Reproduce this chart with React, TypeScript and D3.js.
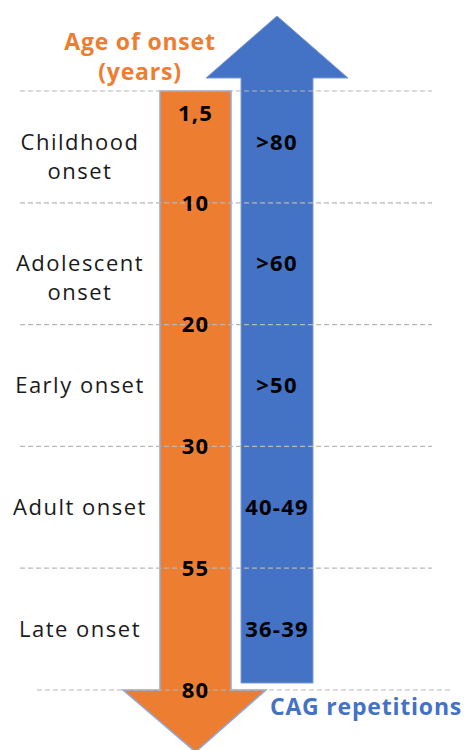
import React from "react";
import * as d3 from "d3";

// onset stages, top to bottom
const stages = ["Childhood onset", "Adolescent onset", "Early onset", "Adult onset", "Late onset"];
const stageLines = [["Childhood", "onset"], ["Adolescent", "onset"], ["Early onset"], ["Adult onset"], ["Late onset"]];
// age (years) at the stage boundaries
const ageBreaks = ["1,5", "10", "20", "30", "55", "80"];
// CAG repeats per stage
const cagRepeats = [">80", ">60", ">50", "40-49", "36-39"];

const ORANGE = "#ED7D31";
const BLUE = "#4472C4";
const FONT = "'Open Sans', 'DejaVu Sans', sans-serif";

export default function App() {
  const width = 465;
  const height = 750;

  const y = d3.scaleBand().domain(stages).range([81, 690]);
  const bw = y.bandwidth();
  const mid = (s: string) => (y(s) as number) + bw / 2;
  const bottom = (s: string) => (y(s) as number) + bw;

  const top = (y(stages[0]) as number) + 10; // top of orange shaft
  const end = bottom(stages[stages.length - 1]);

  // arrow geometry
  const orange = { x0: 160, x1: 231, head0: 123, head1: 266 };
  const blue = { x0: 241, x1: 313, head0: 206, head1: 348 };
  const oc = (orange.x0 + orange.x1) / 2;
  const bc = (blue.x0 + blue.x1) / 2;

  const orangePath = d3.path();
  orangePath.moveTo(orange.x0, top);
  orangePath.lineTo(orange.x1, top);
  orangePath.lineTo(orange.x1, end);
  orangePath.lineTo(orange.head1, end);
  orangePath.lineTo(oc, end + 62);
  orangePath.lineTo(orange.head0, end);
  orangePath.lineTo(orange.x0, end);
  orangePath.closePath();

  const blueTop = top - 13;
  const blueBottom = end - 7;
  const bluePath = d3.path();
  bluePath.moveTo(blue.x0, blueBottom);
  bluePath.lineTo(blue.x1, blueBottom);
  bluePath.lineTo(blue.x1, blueTop);
  bluePath.lineTo(blue.head1, blueTop);
  bluePath.lineTo(bc, blueTop - 62);
  bluePath.lineTo(blue.head0, blueTop);
  bluePath.lineTo(blue.x0, blueTop);
  bluePath.closePath();

  const gridY = [top, ...stages.map(bottom)];

  return (
    <svg width={width} height={height} style={{ position: "absolute", left: 0, top: 0 }}>
      <rect width={width} height={height} fill="#fff" />

      <path d={bluePath.toString()} fill={BLUE} stroke="#7f9bd3" strokeWidth={1} />
      <path d={orangePath.toString()} fill={ORANGE} stroke="#8EA9DB" strokeWidth={1.5} />

      {gridY.map((gy, i) => {
        const last = i === gridY.length - 1;
        return (
          <line key={i} x1={last ? 37 : 20} x2={last ? 450 : 432} y1={gy} y2={gy}
            stroke="#b8b8b8" strokeWidth={1.2} strokeDasharray="5,3" />
        );
      })}

      <g fontFamily={FONT} fill={ORANGE} fontWeight="bold" fontSize={23} textAnchor="middle" letterSpacing={0.8}>
        <text x={140} y={50}>Age of onset</text>
        <text x={140} y={80}>(years)</text>
      </g>
      <text x={366} y={715} fontFamily={FONT} fill={BLUE} fontWeight="bold" fontSize={23}
        textAnchor="middle" letterSpacing={0.8}>
        CAG repetitions
      </text>

      <g fontFamily={FONT} fill="#1a1a1a" fontSize={22} textAnchor="middle" letterSpacing={1.5}>
        {stages.map((s, i) => (
          <text key={s} x={80} y={mid(s)} dy="0.35em">
            {stageLines[i].map((l, j) => (
              <tspan key={j} x={80} dy={j === 0 ? "0.35em" : 29}>{l}</tspan>
            ))}
          </text>
        ))}
      </g>

      <g fontFamily={FONT} fill="#000" fontWeight="bold" fontSize={22} textAnchor="middle" letterSpacing={1.2}>
        {ageBreaks.map((a, i) => (
          <text key={a} x={oc} y={i === 0 ? top + 22 : bottom(stages[i - 1])} dy="0.35em">{a}</text>
        ))}
        {cagRepeats.map((c, i) => (
          <text key={c} x={bc} y={mid(stages[i])} dy="0.35em">{c}</text>
        ))}
      </g>
    </svg>
  );
}
